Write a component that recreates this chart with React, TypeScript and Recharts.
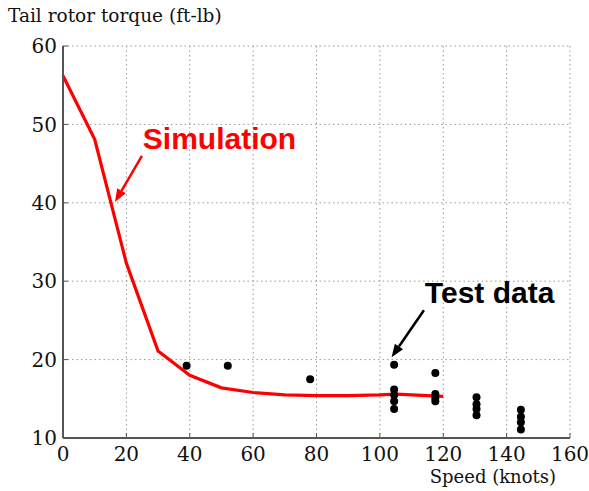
import { ComposedChart, Line, Scatter, XAxis, YAxis, CartesianGrid, ReferenceLine, ReferenceDot } from 'recharts'

// simulation curve (red)
const simSpeed = [0, 10, 20, 30, 40, 50, 60, 70, 80, 90, 100, 105, 110, 120]
const simTorque = [56.2, 48.1, 32.3, 21.1, 18.0, 16.4, 15.8, 15.5, 15.4, 15.4, 15.5, 15.6, 15.5, 15.3]

// flight test points (black dots)
const testSpeed = [39, 52, 78, 104.5, 104.5, 104.5, 104.5, 104.5, 117.5, 117.5, 117.5, 117.5, 130.5, 130.5, 130.5, 130.5, 144.5, 144.5, 144.5, 144.5]
const testTorque = [19.2, 19.2, 17.5, 19.35, 16.2, 15.5, 14.7, 13.7, 18.3, 15.6, 15.1, 14.7, 15.2, 14.3, 13.7, 12.9, 13.6, 12.7, 12.0, 11.1]

const xTicks = [0, 20, 40, 60, 80, 100, 120, 140, 160]
const yTicks = [10, 20, 30, 40, 50, 60]

const simData = simSpeed.map((s, i) => ({ speed: s, torque: simTorque[i] }))
const testData = testSpeed.map((s, i) => ({ speed: s, torque: testTorque[i] }))

const serif = '"DejaVu Serif", serif'
const sans = '"Liberation Sans", Arial, sans-serif'

function Arrow(color: string) {
  return (p: any) => {
    const { x1, y1, x2, y2 } = p
    const ang = Math.atan2(y2 - y1, x2 - x1)
    const len = 13
    const half = 5
    const bx = x2 - len * Math.cos(ang)
    const by = y2 - len * Math.sin(ang)
    const nx = -Math.sin(ang) * half
    const ny = Math.cos(ang) * half
    return (
      <g>
        <line x1={x1} y1={y1} x2={bx} y2={by} stroke={color} strokeWidth={2.5} />
        <polygon points={`${x2},${y2} ${bx + nx},${by + ny} ${bx - nx},${by - ny}`} fill={color} />
      </g>
    )
  }
}

function Note(text: string, color: string) {
  return (p: any) => (
    <text x={p.cx} y={p.cy} fill={color} fontFamily={sans} fontWeight="bold" fontSize={30}>
      {text}
    </text>
  )
}

export default function App() {
  return (
    <div style={{ position: 'absolute', left: 0, top: 0, width: 589, height: 491, background: '#fff', fontFamily: serif }}>
      <ComposedChart width={589} height={491} margin={{ top: 46, right: 19, left: 0, bottom: 0 }}>
        <CartesianGrid stroke="#999" strokeDasharray="1.5 3" />
        <XAxis
          type="number"
          dataKey="speed"
          domain={[0, 160]}
          ticks={xTicks}
          height={53}
          tickSize={-5}
          tickMargin={14}
          axisLine={{ stroke: '#555', strokeWidth: 2 }}
          tickLine={{ stroke: '#555' }}
          tick={{ fill: '#111', fontFamily: serif, fontSize: 20 }}
        />
        <YAxis
          type="number"
          dataKey="torque"
          domain={[10, 60]}
          ticks={yTicks}
          width={63}
          tickSize={-5}
          tickMargin={11}
          axisLine={{ stroke: '#555', strokeWidth: 2 }}
          tickLine={{ stroke: '#555' }}
          tick={{ fill: '#111', fontFamily: serif, fontSize: 20 }}
        />
        <Line data={simData} dataKey="torque" type="linear" stroke="#ff0000" strokeWidth={3.2} dot={false} isAnimationActive={false} />
        <Scatter
          data={testData}
          dataKey="torque"
          isAnimationActive={false}
          shape={(p: any) => <circle cx={p.cx} cy={p.cy} r={4} fill="#000" />}
        />
        <ReferenceLine segment={[{ x: 24.9, y: 46.0 }, { x: 16.4, y: 40.1 }]} shape={Arrow('#ff0000')} />
        <ReferenceLine segment={[{ x: 113.9, y: 26.3 }, { x: 103.7, y: 20.3 }]} shape={Arrow('#000')} />
        <ReferenceDot x={25.2} y={46.9} r={0} shape={Note('Simulation', '#ff0000')} />
        <ReferenceDot x={114.2} y={27.2} r={0} shape={Note('Test data', '#000')} />
        <text x={8} y={22} fontFamily={serif} fontSize={18.5} fill="#111">Tail rotor torque (ft-lb)</text>
        <text x={556} y={483} textAnchor="end" fontFamily={serif} fontSize={18} fill="#111">Speed (knots)</text>
      </ComposedChart>
    </div>
  )
}
